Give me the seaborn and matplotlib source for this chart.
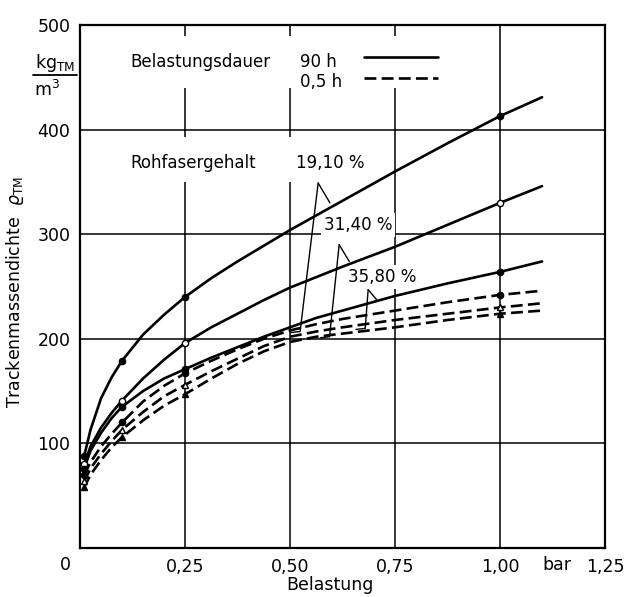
import pandas as pd
import seaborn as sns
import matplotlib.pyplot as plt
from matplotlib.patches import Rectangle

curve_x = [0.01, 0.025, 0.05, 0.075, 0.1, 0.15, 0.2, 0.25, 0.3125, 0.375,
           0.4375, 0.5, 0.5625, 0.625, 0.75, 0.875, 1.0, 1.1]
rho_90h_1910 = [88, 113, 143, 163, 179, 204, 223, 240, 258, 274, 289, 304, 318, 332, 360, 387, 413, 431]
rho_90h_3140 = [80, 97, 115, 129, 141, 162, 180, 196, 211, 224, 237, 249, 259, 269, 288, 309, 330, 346]
rho_90h_3580 = [76, 93, 110, 124, 135, 150, 162, 171, 182, 192, 202, 211, 220, 227, 241, 253, 264, 274]
rho_05h_1910 = [70, 82, 97, 109, 120, 140, 155, 167, 179, 190, 200, 208, 214, 219, 227, 235, 242, 246]
rho_05h_3140 = [64, 76, 90, 102, 113, 130, 145, 156, 169, 181, 193, 202, 207, 211, 218, 224, 230, 234]
rho_05h_3580 = [58, 70, 84, 96, 106, 122, 136, 147, 162, 176, 188, 197, 202, 205, 211, 218, 224, 227]

# Messpunkte
meas_x = [0.01, 0.1, 0.25, 1.0]
pts_90h_1910 = [88, 179, 240, 413]
pts_90h_3140 = [80, 141, 196, 330]
pts_90h_3580 = [76, 135, 171, 264]
pts_05h_1910 = [70, 120, 167, 242]
pts_05h_3140 = [64, 113, 156, 230]
pts_05h_3580 = [58, 106, 147, 224]

gehalt = ['19,10 %', '31,40 %', '35,80 %']
dauer = ['90 h', '0,5 h']
x_ticks = [0.25, 0.5, 0.75, 1.0, 1.25]
x_ticklabels = ['0,25', '0,50', '0,75', '1,00', '1,25']
y_ticks = [100, 200, 300, 400, 500]

curves = {
    ('19,10 %', '90 h'): rho_90h_1910, ('31,40 %', '90 h'): rho_90h_3140,
    ('35,80 %', '90 h'): rho_90h_3580, ('19,10 %', '0,5 h'): rho_05h_1910,
    ('31,40 %', '0,5 h'): rho_05h_3140, ('35,80 %', '0,5 h'): rho_05h_3580,
}
points = {
    ('19,10 %', '90 h'): pts_90h_1910, ('31,40 %', '90 h'): pts_90h_3140,
    ('35,80 %', '90 h'): pts_90h_3580, ('19,10 %', '0,5 h'): pts_05h_1910,
    ('31,40 %', '0,5 h'): pts_05h_3140, ('35,80 %', '0,5 h'): pts_05h_3580,
}
# marker, gefuellt?
marker_style = {
    ('19,10 %', '90 h'): ('o', True), ('31,40 %', '90 h'): ('o', False),
    ('35,80 %', '90 h'): ('o', True), ('19,10 %', '0,5 h'): ('o', True),
    ('31,40 %', '0,5 h'): ('^', False), ('35,80 %', '0,5 h'): ('^', True),
}

rows = []
for (g, d), vals in curves.items():
    for x, y in zip(curve_x, vals):
        rows.append({'Belastung': x, 'rho': y, 'Gehalt': g, 'Dauer': d, 'Kurve': g + d})
df = pd.DataFrame(rows)

sns.set_style('white')
plt.rcParams['font.family'] = ['DejaVu Sans']
plt.rcParams['font.size'] = 12
plt.rcParams['text.color'] = 'black'
plt.rcParams['axes.labelcolor'] = 'black'

fig = plt.figure(figsize=(6.27, 5.97), dpi=100)
ax = fig.add_axes([0.1276, 0.0821, 0.8374, 0.8759])
ax.set_xlim(0, 1.25)
ax.set_ylim(0, 500)
ax.set_axisbelow(True)
ax.grid(True, color='black', lw=1.1)
for sp in ax.spines.values():
    sp.set_color('black')
    sp.set_linewidth(1.6)

# weisse Aussparungen im Gitter hinter den Beschriftungen
ax.add_patch(Rectangle((0.095, 440), 0.78, 50, facecolor='white', edgecolor='none', zorder=1))
ax.add_patch(Rectangle((0.095, 350), 0.57, 43, facecolor='white', edgecolor='none', zorder=1))

sns.lineplot(data=df, x='Belastung', y='rho', units='Kurve', estimator=None,
             style='Dauer', dashes={'90 h': '', '0,5 h': (4.5, 2)},
             color='black', lw=1.9, sort=False, legend=False, ax=ax, zorder=3)

for key, vals in points.items():
    m, filled = marker_style[key]
    ax.plot(meas_x, vals, ls='none', marker=m, ms=4.5,
            mfc='black' if filled else 'white', mec='black', mew=1.0, zorder=4)

ax.set_xticks(x_ticks, x_ticklabels)
ax.set_yticks(y_ticks, [str(v) for v in y_ticks])
ax.tick_params(length=0, pad=7, labelsize=12.5, colors='black')
ax.text(-0.036, -16, '0', ha='center', va='center', fontsize=12.5, clip_on=False)
ax.text(1.135, -16, 'bar', ha='center', va='center', fontsize=12.5, clip_on=False)

ax.set_xlabel('Belastung', fontsize=12.5)
ax.xaxis.set_label_coords(0.476, -0.054)
ax.set_ylabel(r'Trackenmassendichte  $\varrho_{\mathrm{TM}}$', fontsize=12.5)
ax.yaxis.set_label_coords(-0.102, 0.49)

# Einheit
ax.text(-0.06, 464, r'kg$_{\mathrm{TM}}$', ha='center', va='center', fontsize=12.5, clip_on=False)
ax.plot([-0.112, -0.007], [452, 452], color='black', lw=1.3, clip_on=False)
ax.text(-0.078, 438, r'm$^3$', ha='center', va='center', fontsize=12.5, clip_on=False)

# Legende (Belastungsdauer)
ax.text(0.119, 465, 'Belastungsdauer', ha='left', va='center', zorder=5)
ax.text(0.524, 465, '90 h', ha='left', va='center', zorder=5)
ax.text(0.524, 446, '0,5 h', ha='left', va='center', zorder=5)
ax.plot([0.676, 0.852], [469, 469], color='black', lw=1.9, zorder=5)
ax.plot([0.676, 0.852], [449, 449], color='black', lw=1.9, dashes=(4.5, 2), zorder=5)

# Rohfasergehalt mit Hinweislinien
ax.text(0.119, 368, 'Rohfasergehalt', ha='left', va='center', zorder=5)
lbl_box = dict(facecolor='white', edgecolor='none', pad=2)
ax.text(0.514, 368, gehalt[0], ha='left', va='center', zorder=5)
ax.text(0.581, 309, gehalt[1], ha='left', va='center', zorder=2, bbox=lbl_box)
ax.text(0.638, 259, gehalt[2], ha='left', va='center', zorder=2, bbox=lbl_box)

leaders = [
    [(0.567, 349), (0.595, 330)], [(0.567, 349), (0.524, 207), (0.502, 206)],
    [(0.617, 290), (0.641, 274)], [(0.617, 290), (0.594, 202), (0.572, 201)],
    [(0.686, 247), (0.707, 237)], [(0.686, 247), (0.679, 210), (0.657, 209)],
]
for seg in leaders:
    xs, ys = zip(*seg)
    ax.plot(xs, ys, color='black', lw=1.0, zorder=5)

fig.savefig('out.png', dpi=100)
